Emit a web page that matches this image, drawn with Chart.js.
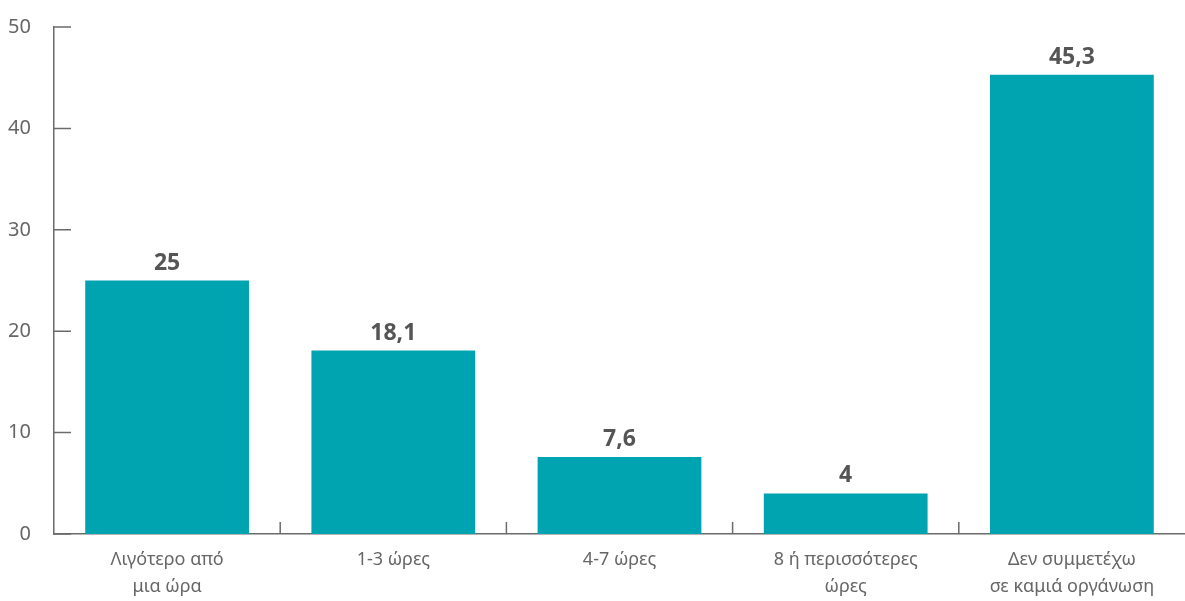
<!DOCTYPE html>
<html>
<head>
<meta charset="utf-8">
<script src="https://cdn.jsdelivr.net/npm/chart.js@4"></script>
<style>
  html, body { margin: 0; padding: 0; background: #fff; }
  #wrap { width: 1185px; height: 601px; }
</style>
</head>
<body>
<div id="wrap"><canvas id="chart"></canvas></div>
<script>
const categories = [
  ["Λιγότερο από", "μια ώρα"],
  "1-3 ώρες",
  "4-7 ώρες",
  ["8 ή περισσότερες", "ώρες"],
  ["Δεν συμμετέχω", "σε καμιά οργάνωση"],
];
const values = [25, 18.1, 7.6, 4, 45.3];
const yTicks = [0, 10, 20, 30, 40, 50];

const axisColor = "#6b6b6b";

// ticks pointing inward + value labels
const extras = {
  id: "extras",
  afterDatasetsDraw(chart) {
    const ctx = chart.ctx;
    const x = chart.scales.x;
    const y = chart.scales.y;
    const area = chart.chartArea;
    ctx.save();
    ctx.strokeStyle = axisColor;
    ctx.lineWidth = 1.5;
    ctx.beginPath();
    yTicks.forEach((v) => {
      const py = y.getPixelForValue(v);
      ctx.moveTo(area.left, py);
      ctx.lineTo(area.left + 17, py);
    });
    for (let i = 1; i < categories.length; i++) {
      const px = (x.getPixelForValue(i - 1) + x.getPixelForValue(i)) / 2;
      ctx.moveTo(px, area.bottom);
      ctx.lineTo(px, area.bottom - 12);
    }
    ctx.stroke();

    ctx.fillStyle = "#555";
    ctx.font = "bold 23px 'Noto Sans'";
    ctx.textAlign = "center";
    ctx.textBaseline = "bottom";
    chart.getDatasetMeta(0).data.forEach((bar, i) => {
      ctx.fillText(String(values[i]).replace(".", ","), bar.x, bar.y - 6);
    });
    ctx.restore();
  },
};

new Chart(document.getElementById("chart"), {
  type: "bar",
  data: {
    labels: categories,
    datasets: [
      {
        data: values,
        backgroundColor: "#00A3B0",
        barPercentage: 0.724,
        categoryPercentage: 1,
      },
    ],
  },
  options: {
    responsive: true,
    maintainAspectRatio: false,
    animation: false,
    layout: { padding: { top: 12, right: 0, left: 0, bottom: 0 } },
    plugins: {
      legend: { display: false },
      tooltip: { enabled: false },
    },
    scales: {
      x: {
        afterFit(scale) { scale.height = 67; },
        grid: { display: false },
        border: { color: axisColor, width: 1.5 },
        ticks: {
          color: "#666",
          font: { family: "Noto Sans", size: 18, lineHeight: 1.5 },
          padding: 4,
          maxRotation: 0,
        },
      },
      y: {
        min: 0,
        max: 50,
        afterBuildTicks(scale) {
          scale.ticks = yTicks.map((v) => ({ value: v }));
        },
        afterFit(scale) { scale.width = 54; },
        grid: { display: false },
        border: { color: axisColor, width: 1.5 },
        ticks: {
          color: "#666",
          font: { family: "Noto Sans", size: 20 },
          padding: 15,
        },
      },
    },
  },
  plugins: [extras],
});
</script>
</body>
</html>
